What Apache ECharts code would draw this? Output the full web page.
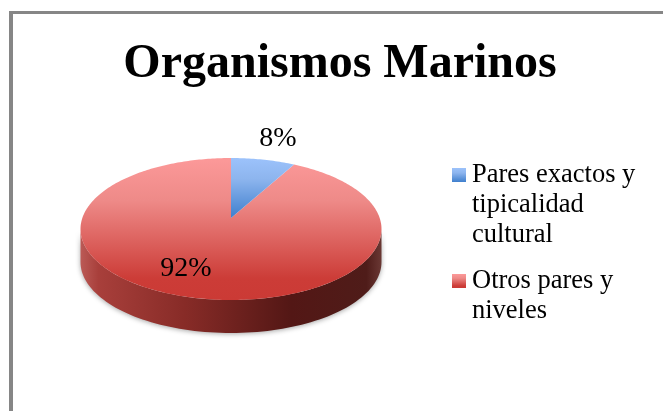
<!DOCTYPE html>
<html><head><meta charset="utf-8">
<style>html,body{margin:0;padding:0;background:#fff}#c{width:663px;height:411px}</style>
<script src="https://cdn.jsdelivr.net/npm/echarts@6/dist/echarts.min.js"></script></head>
<body><div id="c"></div>
<script>
const title = 'Organismos Marinos';
const categories = ['Pares exactos y tipicalidad cultural', 'Otros pares y niveles'];
const legendLines = ['\n\nPares exactos y\ntipicalidad\ncultural', '\nOtros pares y\nniveles'];
const values = [8, 92];
const percentLabels = ['8%', '92%'];

const FONT = '"Liberation Serif","Times New Roman",serif';
const CX = 231, CY = 229, RX = 150.5, RY = 71, DEPTH = 33, K = 0.155;
const LABEL_POS = [[278, 139], [186, 269]];
const total = values.reduce((a, b) => a + b, 0);
const S = Math.sqrt(1 - K * K);

function project(deg) {
  const t = deg * Math.PI / 180, u = Math.sin(t), v = -Math.cos(t), w = 1 - K * v;
  return [CX + RX * S * u / w, CY + RY * (v - K) / w];
}
function vgrad(stops) {
  return { type: 'linear', x: 0, y: 0, x2: 0, y2: 1, colorStops: stops.map(s => ({ offset: s[0], color: s[1] })) };
}
const fills = [
  vgrad([[0, '#9CC2FB'], [0.35, '#8DB5EE'], [1, '#3F7FCD']]),
  vgrad([[0, '#FC9999'], [0.3, '#EE8A88'], [0.85, '#CC3C37'], [1, '#CB3A35']])
];
const sideFill = {
  type: 'linear', x: 0, y: 0, x2: 1, y2: 0,
  colorStops: [
    { offset: 0, color: '#BB5A56' }, { offset: 0.06, color: '#A83F3B' }, { offset: 0.35, color: '#872B27' },
    { offset: 0.7, color: '#531715' }, { offset: 0.95, color: '#4F1C19' }, { offset: 1, color: '#6A3834' }
  ]
};
function startOf(i) {
  let s = 0; for (let j = 0; j < i; j++) s += values[j];
  return s / total * 360;
}
function sidePoints() {
  const pts = [];
  for (let a = 0; a <= 180; a += 2) {
    const t = a * Math.PI / 180; pts.push([CX + RX * Math.cos(t), CY + RY * Math.sin(t)]);
  }
  for (let a = 180; a >= 0; a -= 2) {
    const t = a * Math.PI / 180; pts.push([CX + RX * Math.cos(t), CY + DEPTH + RY * Math.sin(t)]);
  }
  return pts;
}
function renderSlice(seriesIdx) {
  return function (params, api) {
    const start = startOf(seriesIdx), end = start + api.value(0) / total * 360;
    const pts = [[CX, CY - RY * K]];
    for (let a = start; a < end; a += 1) pts.push(project(a));
    pts.push(project(end));
    const children = [];
    if (seriesIdx === 1) children.push({
      type: 'polygon', shape: { points: sidePoints() },
      style: { fill: sideFill, shadowBlur: 5, shadowColor: 'rgba(0,0,0,0.35)', shadowOffsetY: 1 }
    });
    children.push({ type: 'polygon', shape: { points: pts }, style: { fill: fills[seriesIdx] } });
    return { type: 'group', children };
  };
}
function labelSeries() {
  return {
    type: 'custom', coordinateSystem: 'none', silent: true, z: 5, data: percentLabels.map((t, i) => [i]),
    renderItem: (p, api) => {
      const i = api.value(0);
      return { type: 'text', style: { text: percentLabels[i], x: LABEL_POS[i][0], y: LABEL_POS[i][1],
        fill: '#000', font: '28px ' + FONT, align: 'center', verticalAlign: 'middle' } };
    }
  };
}
const legendBase = {
  left: 452, padding: 0, itemWidth: 14, itemHeight: 14, icon: 'rect', orient: 'vertical', selectedMode: false,
  textStyle: { fontFamily: FONT, fontSize: 26.5, lineHeight: 30, color: '#000', padding: [4, 0, 0, 1] },
  formatter: n => legendLines[categories.indexOf(n)]
};
const chart = echarts.init(document.getElementById('c'), null, { renderer: 'canvas' });
chart.setOption({
  backgroundColor: '#fff',
  animation: false,
  title: { text: title, left: 340, top: 41, textAlign: 'center', padding: 0,
    textStyle: { fontFamily: FONT, fontWeight: 'bold', fontSize: 48, color: '#000' } },
  legend: [
    Object.assign({}, legendBase, { top: 98, data: [categories[0]] }),
    Object.assign({}, legendBase, { top: 234, data: [categories[1]] })
  ],
  graphic: [
    { type: 'rect', shape: { x: 9, y: 11, width: 654, height: 3 }, style: { fill: '#868686' } },
    { type: 'rect', shape: { x: 9, y: 11, width: 4, height: 400 }, style: { fill: '#868686' } }
  ],
  series: [
    { type: 'custom', name: categories[1], coordinateSystem: 'none', itemStyle: { color: fills[1] }, z: 2, data: [[values[1]]], renderItem: renderSlice(1) },
    { type: 'custom', name: categories[0], coordinateSystem: 'none', itemStyle: { color: fills[0] }, z: 3, data: [[values[0]]], renderItem: renderSlice(0) },
    labelSeries()
  ]
});
</script></body></html>
